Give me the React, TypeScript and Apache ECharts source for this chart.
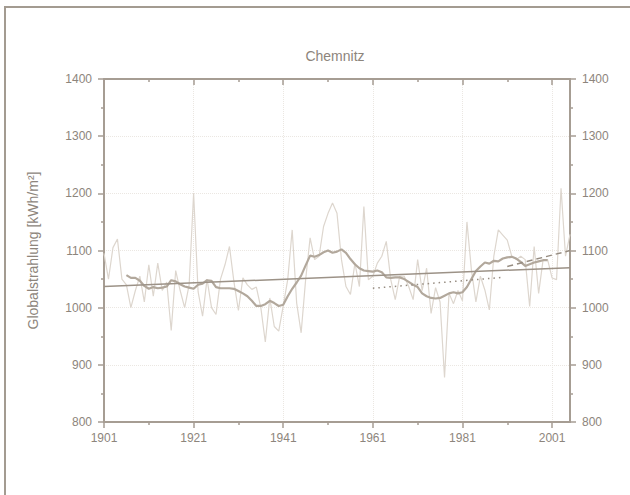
import React, { useEffect, useRef } from "react";
import * as echarts from "echarts";

const annualStartYear = 1901;
const annualValues = [
  1095, 1050, 1105, 1120, 1050, 1040, 1000, 1030, 1055, 1010,
  1075, 1020, 1078, 1030, 1045, 960, 1065, 1030, 1000, 1040,
  1200, 1028, 985, 1050, 1000, 988, 1050, 1075, 1107, 1045,
  995, 1052, 1040, 1032, 1036, 1000, 940, 1017, 967, 959,
  1003, 1049, 1136, 1008, 956, 1049, 1122, 1084, 1090, 1142,
  1165, 1183, 1165, 1084, 1037, 1023, 1078, 1037, 1177, 1049,
  1055, 1078, 1090, 1116, 1049, 1014, 1055, 1055, 1037, 1014,
  1084, 1030, 1069, 990, 1035, 1010, 878, 1025, 1007, 1030,
  1012, 1150, 1066, 1010, 1055, 1031, 996, 1090, 1136, 1127,
  1118, 1090, 1084, 1090, 1084, 1002, 1107, 1025, 1084, 1084,
  1052, 1049, 1209, 1090, 1128,
];

const smoothStartYear = 1906;
const smoothValues = [
  1057, 1052, 1052, 1047, 1038, 1033, 1036, 1034, 1035, 1037,
  1048, 1046, 1041, 1037, 1035, 1033, 1040, 1042, 1048, 1047,
  1036, 1034, 1034, 1034, 1033, 1029, 1025, 1020, 1012, 1003,
  1003, 1006, 1012, 1008, 1003, 1005, 1020, 1033, 1044, 1056,
  1074, 1091, 1089, 1092, 1097, 1100, 1096, 1098, 1102, 1096,
  1085, 1076, 1069, 1065, 1064, 1063, 1065, 1062, 1053, 1052,
  1053, 1053, 1050, 1045, 1040, 1036, 1025, 1020, 1017, 1016,
  1017, 1021, 1025, 1027, 1025, 1027, 1036, 1050, 1064, 1072,
  1079, 1077, 1082, 1081, 1086, 1088, 1089, 1086, 1080, 1073,
  1076, 1079, 1081, 1083, 1083,
];

const trendYears = [1901, 2005];
const trendValues = [1037, 1070];
const trend6190Years = [1961, 1990];
const trend6190Values = [1034, 1053];
const trend9105Years = [1991, 2005];
const trend9105Values = [1072, 1100];

const xMajorTicks = [1901, 1921, 1941, 1961, 1981, 2001];
const xMinorTicks = [1911, 1931, 1951, 1971, 1991];

const titleText = "Chemnitz";
const yAxisName = "Globalstrahlung [kWh/m²]";

const axisColor = "#a69d93";
const textColor = "#8d857c";
const font = "'Liberation Sans', Arial, sans-serif";

export default function App() {
  const ref = useRef<HTMLDivElement>(null);

  useEffect(() => {
    if (!ref.current) return;
    const chart = echarts.init(ref.current, undefined, { renderer: "svg" });

    const annual = annualValues.map((v, i) => [annualStartYear + i, v]);
    const smooth = smoothValues.map((v, i) => [smoothStartYear + i, v]);
    const trend = trendYears.map((y, i) => [y, trendValues[i]]);
    const t6190 = trend6190Years.map((y, i) => [y, trend6190Values[i]]);
    const t9105 = trend9105Years.map((y, i) => [y, trend9105Values[i]]);

    const fmt = (v: number) => String(v);
    const lineStyle = { color: axisColor, width: 2 };
    const tickStyle = { color: axisColor, width: 1.5 };

    const xBase = { type: "value", min: 1901, max: 2005, interval: 20 };

    chart.setOption({
      animation: false,
      backgroundColor: "#ffffff",
      textStyle: { fontFamily: font },
      title: {
        text: titleText,
        left: 330,
        top: 44,
        textAlign: "center",
        textStyle: { color: textColor, fontSize: 14, fontWeight: "normal", fontFamily: font },
      },
      graphic: [
        {
          type: "rect",
          shape: { x: 5, y: 7, width: 700, height: 600 },
          style: { fill: "none", stroke: "#a39b91", lineWidth: 2 },
          silent: true,
        },
      ],
      grid: { left: 104, right: 60, top: 79, bottom: 73, containLabel: false },
      xAxis: [
        {
          ...xBase,
          position: "bottom",
          axisLine: { show: true, onZero: false, lineStyle },
          axisTick: { show: true, customValues: xMajorTicks, length: 6, lineStyle: tickStyle },
          axisLabel: {
            customValues: xMajorTicks,
            color: textColor,
            fontSize: 12,
            margin: 10,
            fontFamily: font,
            formatter: fmt,
          },
          splitLine: { show: true, lineStyle: { color: "#ebe7e2", type: "dotted", width: 1 } },
        },
        {
          ...xBase,
          position: "top",
          axisLine: { show: true, onZero: false, lineStyle },
          axisTick: { show: true, inside: true, customValues: xMajorTicks, length: 6, lineStyle: tickStyle },
          axisLabel: { show: false },
          splitLine: { show: false },
        },
        {
          ...xBase,
          position: "bottom",
          axisLine: { show: false, onZero: false },
          axisTick: { show: true, customValues: xMinorTicks, length: 3, lineStyle: tickStyle },
          axisLabel: { show: false },
          splitLine: { show: false },
        },
        {
          ...xBase,
          position: "top",
          axisLine: { show: false, onZero: false },
          axisTick: { show: true, inside: true, customValues: xMinorTicks, length: 3, lineStyle: tickStyle },
          axisLabel: { show: false },
          splitLine: { show: false },
        },
      ],
      yAxis: [
        {
          type: "value",
          position: "left",
          min: 800,
          max: 1400,
          interval: 100,
          name: yAxisName,
          nameLocation: "middle",
          nameGap: 64,
          nameTextStyle: { color: textColor, fontSize: 14, fontFamily: font },
          axisLine: { show: true, onZero: false, lineStyle },
          axisTick: { show: true, length: 6, lineStyle: tickStyle },
          minorTick: { show: true, splitNumber: 2, length: 3, lineStyle: tickStyle },
          axisLabel: { color: textColor, fontSize: 12, margin: 12, fontFamily: font, formatter: fmt },
          splitLine: { show: true, lineStyle: { color: "#ebe7e2", type: "dotted", width: 1 } },
        },
        {
          type: "value",
          position: "right",
          min: 800,
          max: 1400,
          interval: 100,
          axisLine: { show: true, onZero: false, lineStyle },
          axisTick: { show: true, length: 6, lineStyle: tickStyle },
          minorTick: { show: true, splitNumber: 2, length: 3, lineStyle: tickStyle },
          axisLabel: { color: textColor, fontSize: 12, margin: 12, fontFamily: font, formatter: fmt },
          splitLine: { show: false },
        },
      ],
      series: [
        {
          type: "line",
          name: "annual",
          data: annual,
          showSymbol: false,
          symbol: "none",
          lineStyle: { color: "#ddd6ce", width: 1.2 },
          z: 2,
        },
        {
          type: "line",
          name: "smooth",
          data: smooth,
          showSymbol: false,
          symbol: "none",
          lineStyle: { color: "#b2a89c", width: 2.2 },
          z: 3,
        },
        {
          type: "line",
          name: "trend",
          data: trend,
          showSymbol: false,
          symbol: "none",
          lineStyle: { color: "#9c9287", width: 1.5 },
          z: 4,
        },
        {
          type: "line",
          name: "trend 1961-1990",
          data: t6190,
          showSymbol: false,
          symbol: "none",
          lineStyle: { color: "#968c81", width: 1.5, type: [1.5, 4] },
          z: 4,
        },
        {
          type: "line",
          name: "trend 1991-2005",
          data: t9105,
          showSymbol: false,
          symbol: "none",
          lineStyle: { color: "#968c81", width: 1.5, type: [6, 4] },
          z: 4,
        },
      ],
    });

    return () => chart.dispose();
  }, []);

  return (
    <div
      ref={ref}
      style={{ position: "absolute", left: 0, top: 0, width: 630, height: 495 }}
    />
  );
}
